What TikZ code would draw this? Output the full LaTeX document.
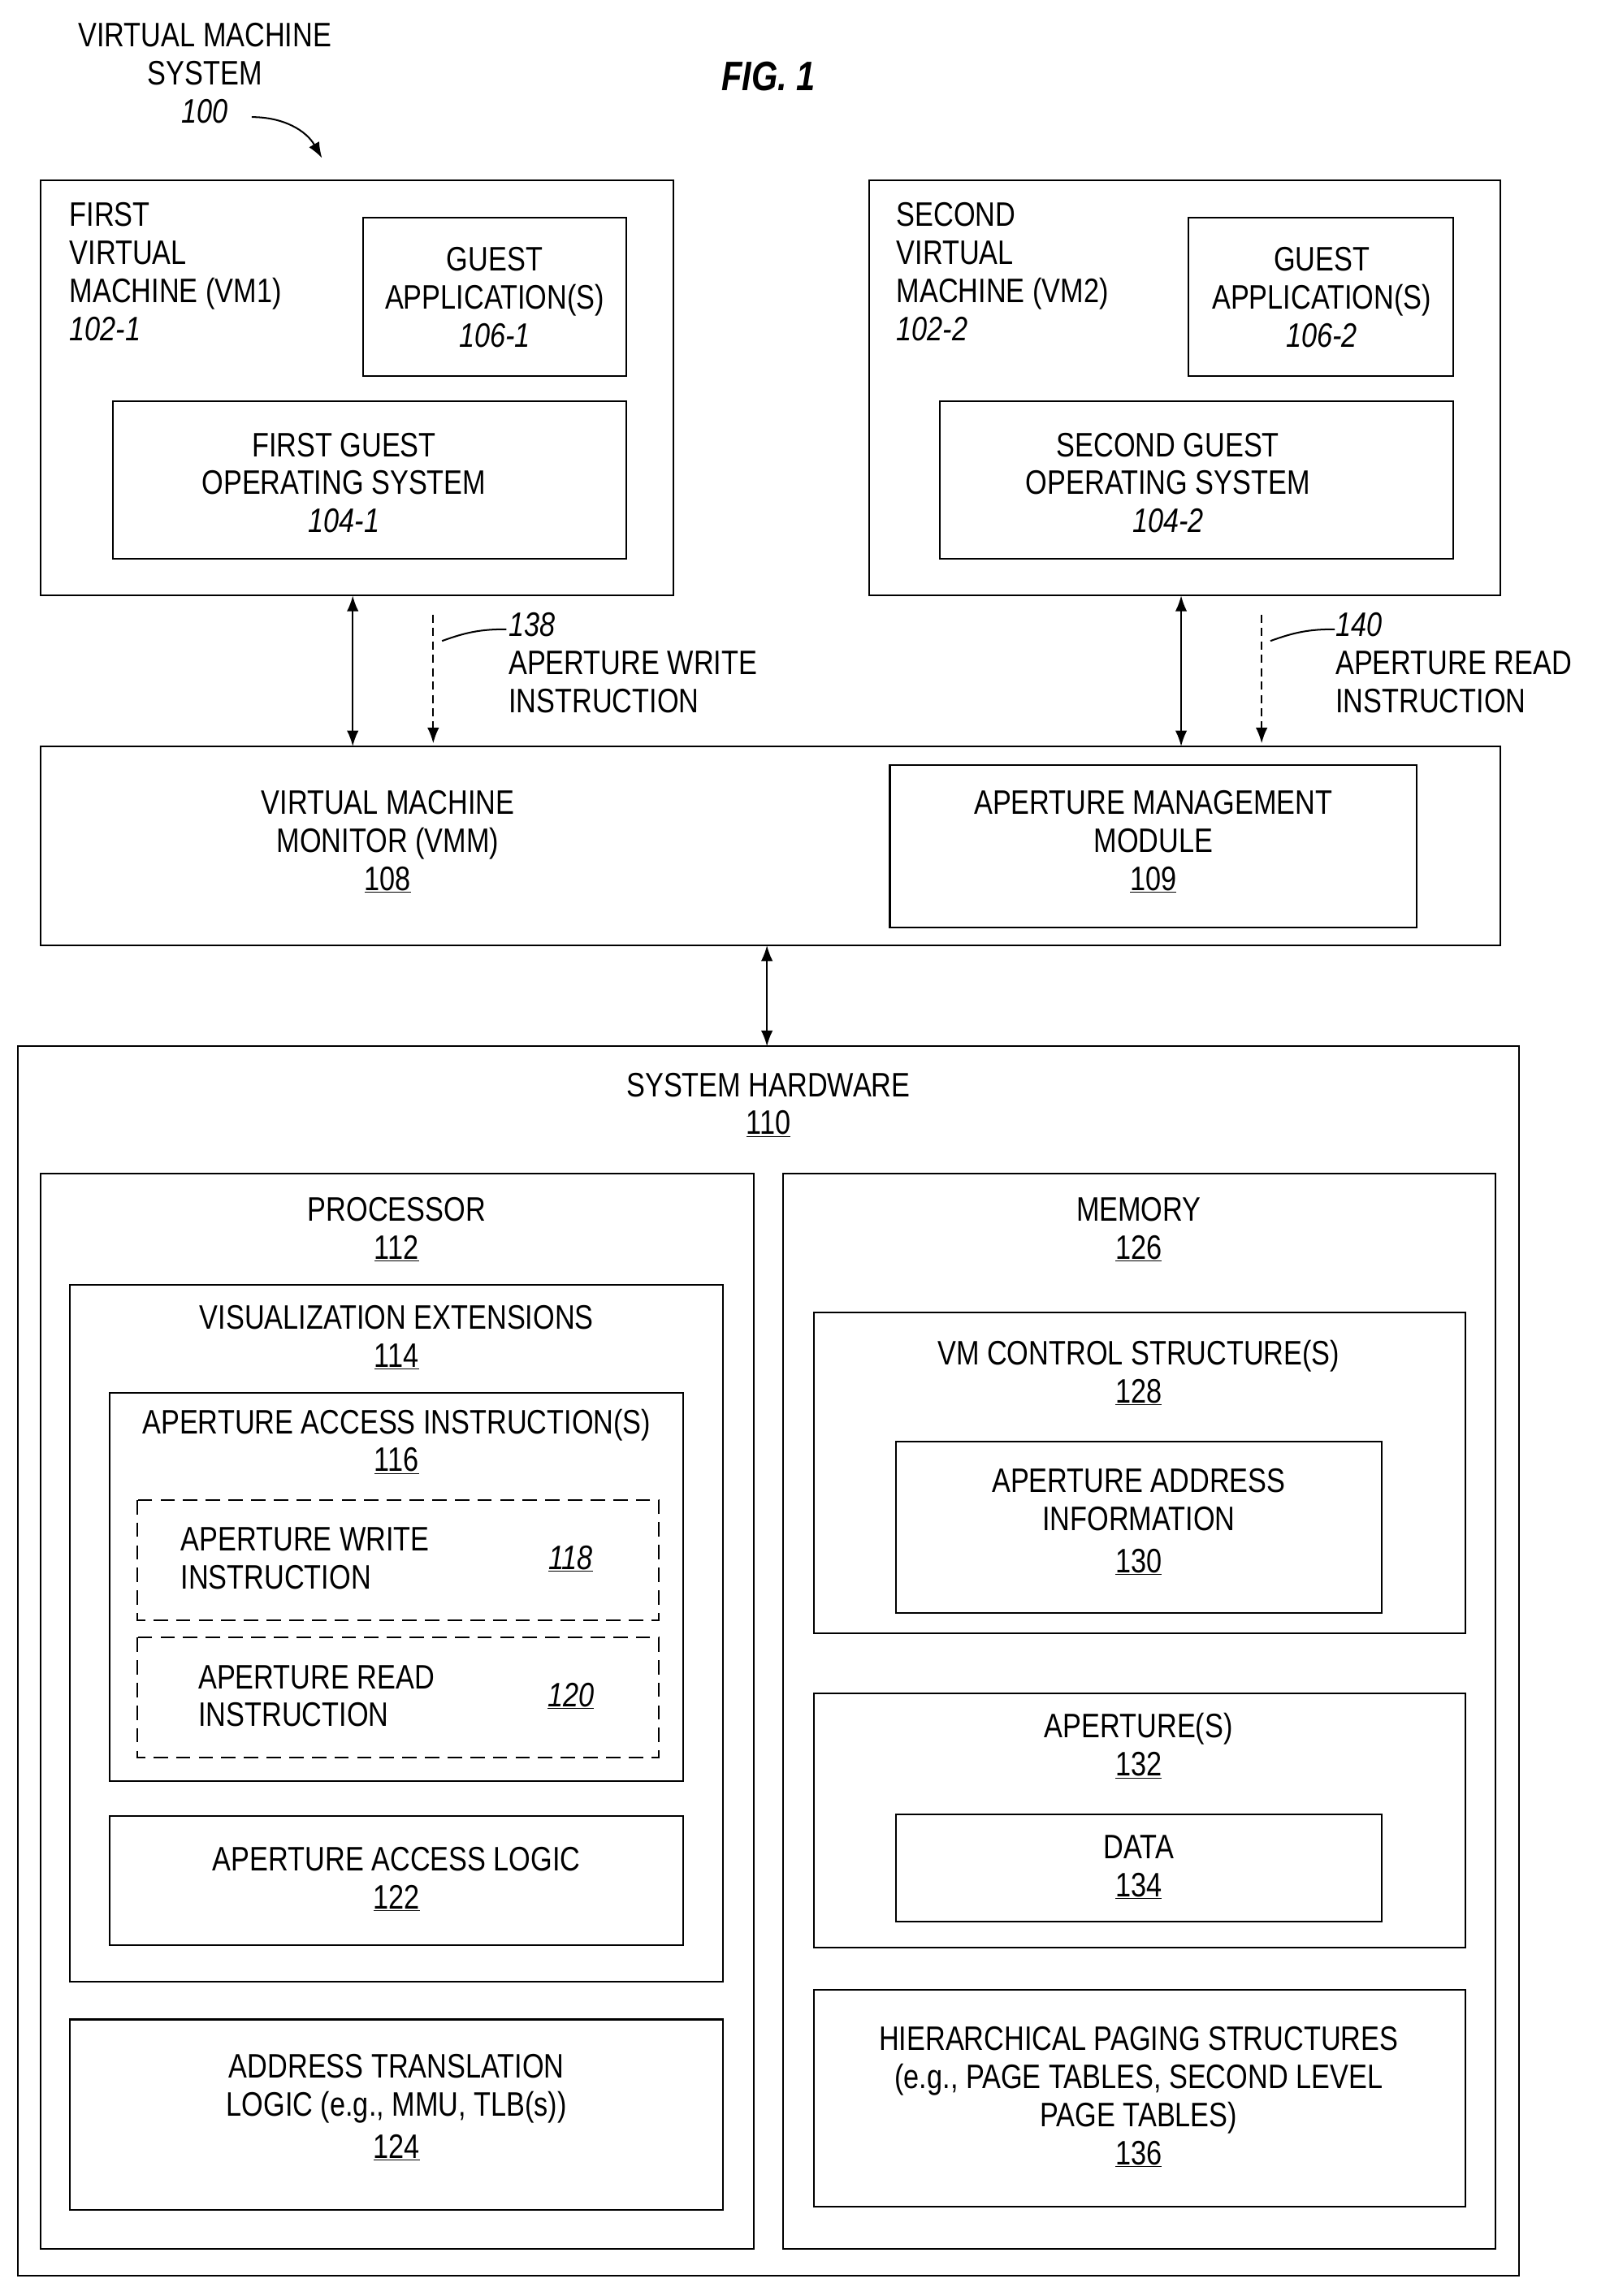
\documentclass[tikz,border=0pt]{standalone}
\usepackage{fontspec}
\setmainfont{Liberation Sans}[FakeStretch=0.82]
\usetikzlibrary{positioning,arrows.meta,calc}
\tikzset{>={Latex[scale=1.5]}}
\newcommand{\ul}[1]{\underline{#1}}

\begin{document}
\begin{tikzpicture}[x=0.05cm, y=-0.05cm, line width=1.6pt,
    txt/.style={align=center, font=\fontsize{33}{37}\selectfont, inner sep=0pt},
    blk/.style={draw},
    dsh/.style={draw, dash pattern=on 14pt off 8pt}]
  \useasboundingbox (0,0) rectangle (1100,1569);
  % virtual machines
  \draw[blk] (28,123) rectangle (460,407);
  \draw[blk] (248,149) rectangle (428,257);
  \draw[blk] (77,274) rectangle (428,382);
  \draw[blk] (594,123) rectangle (1025,407);
  \draw[blk] (812,149) rectangle (993,257);
  \draw[blk] (642,274) rectangle (993,382);
  % monitor
  \draw[blk] (28,510) rectangle (1025,646);
  \draw[blk] (608,523) rectangle (968,634);
  % hardware
  \draw[blk] (12,715) rectangle (1038,1555);
  \draw[blk] (28,802) rectangle (515,1537);
  \draw[blk] (48,878) rectangle (494,1354);
  \draw[blk] (75,952) rectangle (467,1217);
  \draw[dsh] (94,1025) rectangle (450,1107);
  \draw[dsh] (94,1119) rectangle (450,1201);
  \draw[blk] (75,1241) rectangle (467,1329);
  \draw[blk] (48,1380) rectangle (494,1510);
  \draw[blk] (535,802) rectangle (1022,1537);
  \draw[blk] (556,897) rectangle (1001,1116);
  \draw[blk] (612,985) rectangle (944,1102);
  \draw[blk] (556,1157) rectangle (1001,1331);
  \draw[blk] (612,1240) rectangle (944,1313);
  \draw[blk] (556,1360) rectangle (1001,1508);

  % labels
  \node[txt] (sys) at (140,50) {VIRTUAL MACHINE\\SYSTEM\\\textit{100}};
  \node[txt, font=\fontsize{40}{44}\selectfont\bfseries\itshape] (fig) at (525,52) {FIG. 1};
  \node[txt, align=left, anchor=north west] (vm1) at (47,138) {FIRST\\VIRTUAL\\MACHINE (VM1)\\\textit{102-1}};
  \node[txt] (app1) at (338,203) {GUEST\\APPLICATION(S)\\\textit{106-1}};
  \node[txt] (os1) at (235,330) {FIRST GUEST\\OPERATING SYSTEM\\\textit{104-1}};
  \node[txt, align=left, anchor=north west] (vm2) at (612,138) {SECOND\\VIRTUAL\\MACHINE (VM2)\\\textit{102-2}};
  \node[txt] (app2) at (903,203) {GUEST\\APPLICATION(S)\\\textit{106-2}};
  \node[txt] (os2) at (798,330) {SECOND GUEST\\OPERATING SYSTEM\\\textit{104-2}};
  \node[txt] (vmm) at (265,575) {VIRTUAL MACHINE\\MONITOR (VMM)\\\ul{108}};
  \node[txt] (amm) at (788,575) {APERTURE MANAGEMENT\\MODULE\\\ul{109}};
  \node[txt] (hw) at (525,755) {SYSTEM HARDWARE\\\ul{110}};
  \node[txt] (proc) at (271,840) {PROCESSOR\\\ul{112}};
  \node[txt] (ext) at (271,914) {VISUALIZATION EXTENSIONS\\\ul{114}};
  \node[txt] (aai) at (271,985) {APERTURE ACCESS INSTRUCTION(S)\\\ul{116}};
  \node[txt, align=left, anchor=west] (wr) at (123,1065) {APERTURE WRITE\\INSTRUCTION};
  \node[txt] (wrn) at (390,1065) {\ul{\textit{118}}};
  \node[txt, align=left, anchor=west] (rd) at (135,1159) {APERTURE READ\\INSTRUCTION};
  \node[txt] (rdn) at (390,1159) {\ul{\textit{120}}};
  \node[txt] (logic) at (271,1284) {APERTURE ACCESS LOGIC\\\ul{122}};
  \node[txt] (atl) at (271,1440) {ADDRESS TRANSLATION\\LOGIC (e.g., MMU, TLB(s))\\[4pt]\ul{124}};
  \node[txt] (mem) at (778,840) {MEMORY\\\ul{126}};
  \node[txt] (vmcs) at (778,938) {VM CONTROL STRUCTURE(S)\\\ul{128}};
  \node[txt] (aainf) at (778,1040) {APERTURE ADDRESS\\INFORMATION\\[4pt]\ul{130}};
  \node[txt] (apt) at (778,1193) {APERTURE(S)\\\ul{132}};
  \node[txt] (data) at (778,1276) {DATA\\\ul{134}};
  \node[txt] (hps) at (778,1433) {HIERARCHICAL PAGING STRUCTURES\\(e.g., PAGE TABLES, SECOND LEVEL\\PAGE TABLES)\\\ul{136}};
  \node[txt, align=left, anchor=north west] (wlab) at (347,418) {\textit{138}\\APERTURE WRITE\\INSTRUCTION};
  \node[txt, align=left, anchor=north west] (rlab) at (912,418) {\textit{140}\\APERTURE READ\\INSTRUCTION};

  % connectors
  \coordinate (a1) at (241,407); \coordinate (b1) at (241,510);
  \coordinate (a2) at (807,407); \coordinate (b2) at (807,510);
  \coordinate (a3) at (524,646); \coordinate (b3) at (524,715);
  \coordinate (w1) at (296,420); \coordinate (w2) at (296,508);
  \coordinate (r1) at (862,420); \coordinate (r2) at (862,508);
  \draw[<->] (a1) -- (b1);
  \draw[<->] (a2) -- (b2);
  \draw[<->] (a3) -- (b3);
  \draw[->, dash pattern=on 8pt off 5pt] (w1) -- (w2);
  \draw[->, dash pattern=on 8pt off 5pt] (r1) -- (r2);
  \draw (302,438) to[out=20,in=180] (346,430);
  \draw (868,438) to[out=20,in=180] (912,430);
  \draw[->] (172,80) to[out=0,in=120] (220,108);
\end{tikzpicture}
\end{document}
